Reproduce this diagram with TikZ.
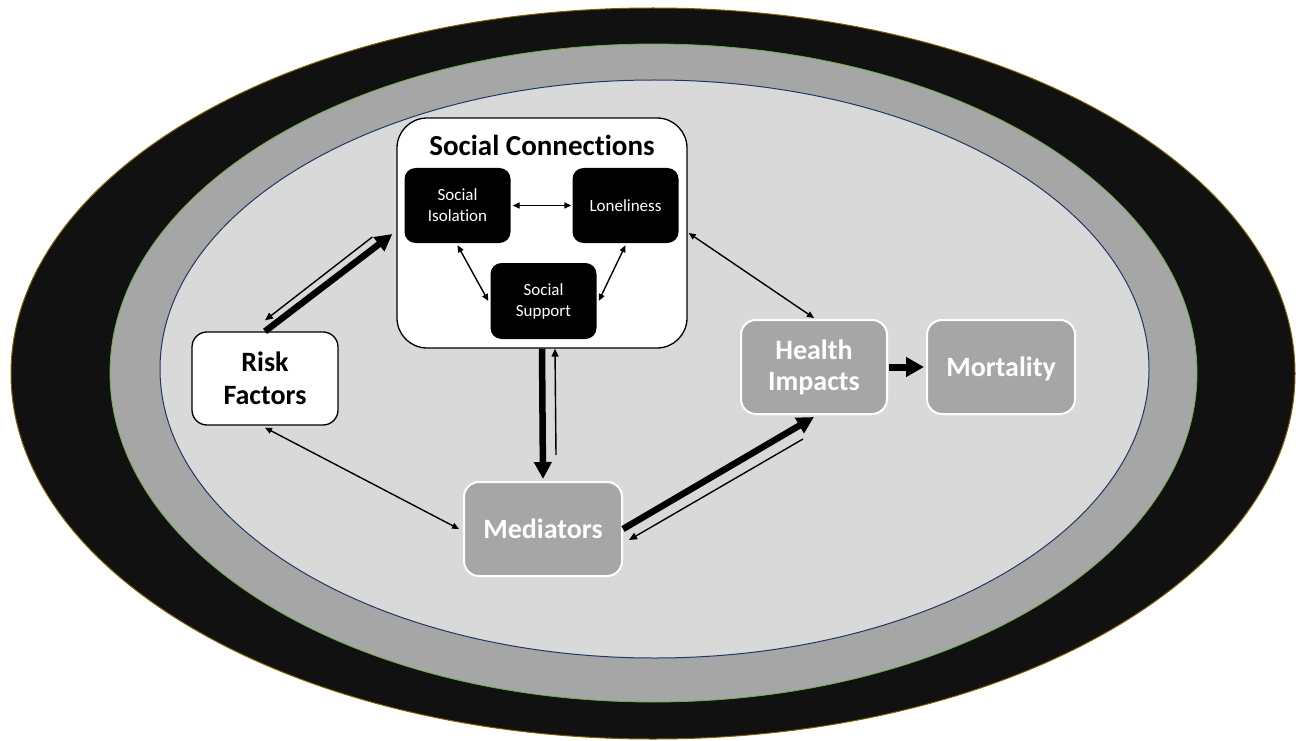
\documentclass[tikz,border=0pt]{standalone}
\usepackage{fontspec}
\setmainfont{Carlito}[Ligatures=NoCommon]
\usetikzlibrary{arrows.meta}
\definecolor{ringdark}{HTML}{111111}
\definecolor{ringdarkedge}{HTML}{7F6000}
\definecolor{ringmid}{HTML}{A6A6A6}
\definecolor{ringmidedge}{HTML}{70AD47}
\definecolor{ringlight}{HTML}{D9D9D9}
\definecolor{ringlightedge}{HTML}{203864}
\definecolor{boxgray}{HTML}{A6A6A6}

\begin{document}
\begin{tikzpicture}[x=1pt,y=-1pt,
    bigfont/.style={font=\bfseries\fontsize{28}{31}\selectfont},
    whitebox/.style={draw=black, line width=1.3pt, fill=white,
      rounded corners=15pt, align=center, inner sep=0pt, bigfont},
    graybox/.style={draw=white, line width=2pt, fill=boxgray, text=white,
      rounded corners=15pt, align=center, inner sep=0pt, bigfont},
    blackbox/.style={fill=black, text=white, rounded corners=11pt,
      align=center, inner sep=0pt, minimum width=106pt, minimum height=75pt,
      font=\fontsize{17}{21}\selectfont},
    thinarrow/.style={line width=1.4pt, -{Triangle[length=8pt,width=7pt]}},
    thinboth/.style={line width=1.4pt,
      {Triangle[length=7pt,width=6pt]}-{Triangle[length=7pt,width=6pt]}},
    thickarrow/.style={line width=6.5pt, -{Triangle[length=17pt,width=17pt]}}]
    \path[use as bounding box] (0,0) rectangle (1304,741);

    % Three nested rings round the model.
    \filldraw[fill=ringdark, draw=ringdarkedge, line width=1pt]
      (653,373.5) ellipse [x radius=642pt, y radius=365.5pt];
    \filldraw[fill=ringmid, draw=ringmidedge, line width=0.8pt]
      (653.5,373) ellipse [x radius=543.5pt, y radius=329pt];
    \filldraw[fill=ringlight, draw=ringlightedge, line width=1pt]
      (654.5,369) ellipse [x radius=494.5pt, y radius=289pt];

    % Social connections and its three parts.
    \node[whitebox, rounded corners=30pt, minimum width=290pt,
      minimum height=230pt] (conn) at (542,233) {};
    \node[anchor=base, font=\bfseries\fontsize{29}{31}\selectfont]
      (conntitle) at (542,156) {Social Connections};
    \node[blackbox] (isolation) at (457.5,205.5) {Social\\Isolation};
    \node[blackbox] (loneliness) at (625.5,205.5) {Loneliness};
    \node[blackbox, minimum height=76pt] (support) at (543.5,301)
      {Social\\Support};

    \node[whitebox, minimum width=146pt, minimum height=93pt,
      font=\bfseries\fontsize{28}{33}\selectfont] (risk)
      at (265,378.5) {Risk\\Factors};
    \node[graybox, minimum width=158pt, minimum height=94pt] (mediators)
      at (543,529) {Mediators};
    \node[graybox, minimum width=146pt, minimum height=94pt] (health)
      at (814,367) {Health\\Impacts};
    \node[graybox, minimum width=148pt, minimum height=94pt,
      text depth=0pt] (mortality) at (1001,367) {Mortality};

    % Links inside the social connections box.
    \draw[thinboth] ([xshift=2]isolation.east) -- ([xshift=-1]loneliness.west);
    \draw[thinboth] ([shift={(0,2)}]isolation.south)
      -- ([xshift=-2]support.west);
    \draw[thinboth] ([shift={(0,2)}]loneliness.south)
      -- ([xshift=2]support.east);

    % Main pathways, thick one way and thin the other.
    \draw[thickarrow] (risk.north) -- ([shift={(-4,1)}]conn.west);
    \draw[thinarrow] ([shift={(-24,4)}]conn.west)
      -- ([shift={(0,-11)}]risk.north);
    \draw[thickarrow] (conn.south) -- ([shift={(0,-2)}]mediators.north);
    \draw[thinarrow] ([shift={(13,-26)}]mediators.north)
      -- ([xshift=13]conn.south);
    \draw[thickarrow] (mediators.east) -- ([shift={(0,2)}]health.south);
    \draw[thinarrow] ([shift={(-11,24)}]health.south)
      -- ([shift={(6,11)}]mediators.east);
    \draw[thinboth] ([shift={(0,2)}]risk.south)
      -- ([xshift=-4]mediators.west);
    \draw[thinboth] ([xshift=1]conn.east) -- ([shift={(0,-1)}]health.north);
    \draw[line width=7pt, -{Triangle[length=18pt,width=19pt]}]
      ([xshift=1]health.east) -- ([xshift=-2]mortality.west);
\end{tikzpicture}
\end{document}
